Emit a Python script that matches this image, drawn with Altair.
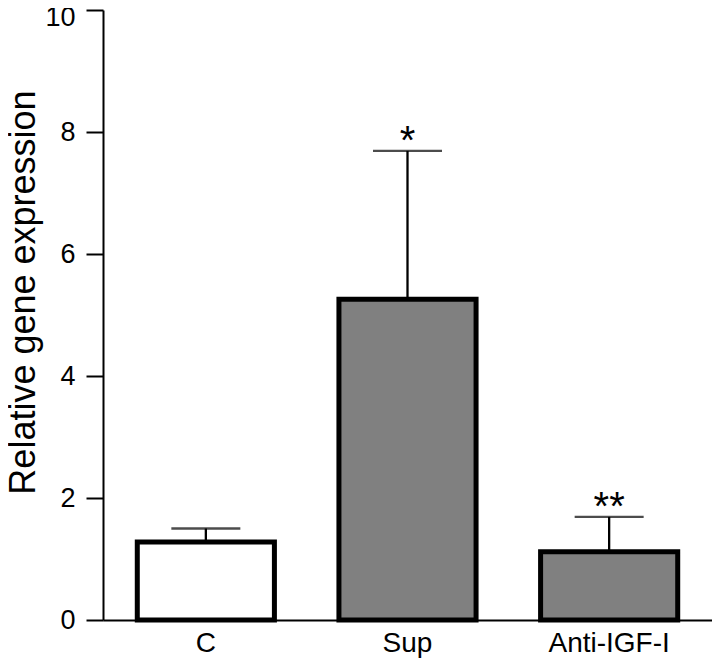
import altair as alt
import pandas as pd

categories = ["C", "Sup", "Anti-IGF-I"]
means = [1.28, 5.26, 1.12]
err_tops = [1.50, 7.69, 1.69]
signif = ["", "*", "**"]
fills = ["#ffffff", "#808080", "#808080"]
y_ticks = [0, 2, 4, 6, 8, 10]

df = pd.DataFrame({"cat": categories, "mean": means, "err": err_tops, "sig": signif})

FONT = "Liberation Sans"

x_enc = alt.X(
    "cat:N",
    sort=categories,
    scale=alt.Scale(paddingInner=0.32, paddingOuter=0.17),
    axis=alt.Axis(
        title=None, labelAngle=0, ticks=False, labelFontSize=28, labelFont=FONT,
        labelColor="black", domainColor="black", domainWidth=2, labelPadding=9,
    ),
)

y_scale = alt.Scale(domain=[0, 10], nice=False)

bars = alt.Chart(df).mark_bar(stroke="black", strokeWidth=5).encode(
    x=x_enc,
    y=alt.Y(
        "mean:Q",
        scale=y_scale,
        axis=alt.Axis(
            values=y_ticks, format="d", grid=False, title="Relative gene expression",
            titleFont=FONT, titleFontSize=36, titleFontWeight="normal", titleColor="black",
            titleX=-69, titleY=282, titleAngle=-90, titleAlign="center", titleBaseline="alphabetic",
            labelFont=FONT, labelFontSize=27, labelColor="black", labelPadding=11,
            labelOffset={"condition": {"test": "datum.value == 10", "value": 7}, "value": 0},
            tickSize=17, tickWidth=2, tickColor="black", domainColor="black", domainWidth=2,
        ),
    ),
    fill=alt.Fill("cat:N", scale=alt.Scale(domain=categories, range=fills), legend=None),
)

rules = alt.Chart(df).mark_rule(color="black", strokeWidth=2.3).encode(
    x=alt.X("cat:N", sort=categories),
    y=alt.Y("mean:Q", scale=y_scale),
    y2="err:Q",
)

caps = alt.Chart(df).mark_tick(color="black", thickness=2.3, size=69).encode(
    x=alt.X("cat:N", sort=categories),
    y=alt.Y("err:Q", scale=y_scale),
)

stars = alt.Chart(df).mark_text(
    font=FONT, fontSize=40, color="black", baseline="alphabetic", dy=3
).encode(
    x=alt.X("cat:N", sort=categories),
    y=alt.Y("err:Q", scale=y_scale),
    text="sig:N",
)

chart = alt.layer(bars, rules, caps, stars).properties(
    width=609,
    height=610,
    autosize=alt.AutoSizeParams(type="none"),
    padding={"left": 95, "top": 2, "right": 0, "bottom": 38},
).configure_view(stroke=None)

chart.save("out.html", embed_options={"renderer": "svg", "actions": False})
